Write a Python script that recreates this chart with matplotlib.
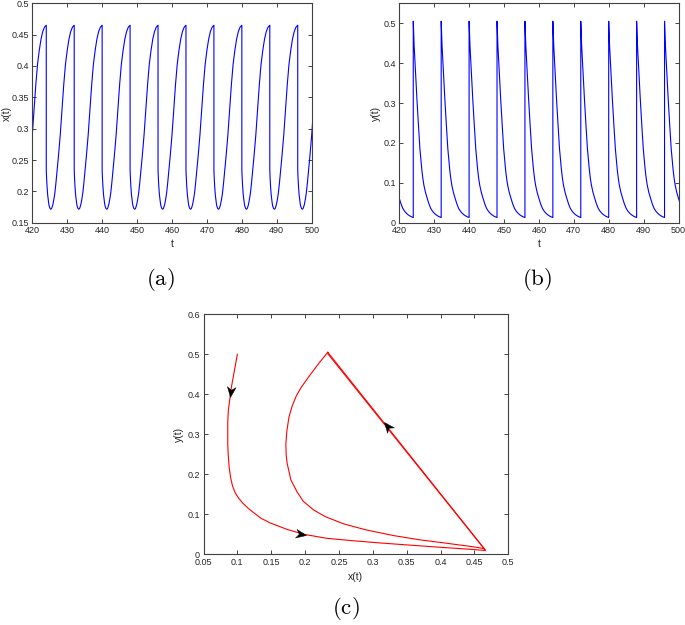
import numpy as np
import matplotlib
matplotlib.use('Agg')
import matplotlib.pyplot as plt
from matplotlib.path import Path
from matplotlib.markers import MarkerStyle
from matplotlib.transforms import Affine2D
from matplotlib.ticker import FormatStrFormatter

plt.rcParams['font.family'] = ['Liberation Sans', 'DejaVu Sans']
plt.rcParams['mathtext.fontset'] = 'cm'

# one period of the periodic solution (tau = time since pulse)
cycle_tau = [0, 0.1, 0.25, 0.4, 0.55, 0.7, 0.85, 1.05, 1.25, 1.45, 1.6, 1.9, 2.2,
             2.45, 2.75, 3.05, 3.5, 4.0, 4.5, 5.0, 5.5, 6.0, 6.5, 7.0, 7.5, 8.0]
cycle_x = [0.2335, 0.2205, 0.2055, 0.1945, 0.187, 0.1808, 0.1763, 0.1732, 0.1716, 0.172, 0.1735, 0.179, 0.188,
           0.197, 0.2125, 0.230, 0.257, 0.290, 0.330, 0.370, 0.403, 0.425, 0.443, 0.455, 0.462, 0.465]
cycle_y = [0.505, 0.478, 0.444, 0.418, 0.396, 0.370, 0.344, 0.310, 0.2775, 0.250, 0.2275, 0.186, 0.1565,
           0.133, 0.111, 0.094, 0.076, 0.061, 0.047, 0.036, 0.029, 0.024, 0.020, 0.017, 0.0148, 0.013]

# impulse times
pulse_t = [416, 424, 432, 440, 448, 456, 464, 472, 480, 488, 496]

# transient orbit in the phase plane, starting from (0.1, 0.5), ending with the first pulse
trans_x = [0.100, 0.097, 0.094, 0.091, 0.089, 0.0867, 0.0858, 0.0858, 0.0858, 0.0867, 0.088, 0.0902,
           0.093, 0.097, 0.102, 0.108, 0.116, 0.1237, 0.135, 0.1484, 0.173, 0.198, 0.232, 0.270,
           0.306, 0.350, 0.400, 0.440, 0.4665, 0.2335]
trans_y = [0.500, 0.472, 0.444, 0.416, 0.390, 0.360, 0.330, 0.3025, 0.2735, 0.244, 0.215, 0.190,
           0.170, 0.153, 0.140, 0.128, 0.115, 0.1045, 0.090, 0.0785, 0.0625, 0.050, 0.040, 0.034,
           0.029, 0.0235, 0.0175, 0.0130, 0.0095, 0.5015]

# direction arrows in panel (c): position and heading
arrow_x = [0.089, 0.201, 0.316]
arrow_y = [0.393, 0.0495, 0.331]
arrow_dx = [-0.002, 0.034, -0.232]
arrow_dy = [-0.028, -0.010, 0.492]

# build the time series from the period and the pulse times
t_all, x_all, y_all = [], [], []
for tk in pulse_t:
    for tau, xv, yv in zip(cycle_tau, cycle_x, cycle_y):
        t_all.append(tk + tau)
        x_all.append(xv)
        y_all.append(yv)

W, H = 685, 625
fig = plt.figure(figsize=(W / 100, H / 100), dpi=100)


def add_axes_px(left, top, right, bottom):
    return fig.add_axes([left / W, 1 - bottom / H, (right - left) / W, (bottom - top) / H])


def style(ax, xlab, ylab, xl_y, yl_x):
    for s in ax.spines.values():
        s.set_color('#404040')
        s.set_linewidth(0.8)
    ax.tick_params(direction='in', top=True, right=True, length=3, width=0.6,
                   labelsize=6.5, pad=2.5, colors='#262626')
    ax.set_xlabel(xlab, fontsize=7.5, va='center', color='#262626')
    ax.set_ylabel(ylab, fontsize=7.5, va='center', color='#262626')
    ax.xaxis.set_label_coords(0.5, xl_y)
    ax.yaxis.set_label_coords(yl_x, 0.5)


# (a) x(t)
ax1 = add_axes_px(32.3, 3.3, 311.7, 222.7)
ax1.plot(t_all, x_all, color='blue', lw=0.8)
ax1.set_xlim(420, 500)
ax1.set_ylim(0.15, 0.5)
ax1.set_xticks(np.arange(420, 501, 10))
ax1.set_yticks(np.arange(0.15, 0.501, 0.05))
ax1.yaxis.set_major_formatter(FormatStrFormatter('%g'))
style(ax1, 't', 'x(t)', -0.097, -0.092)

# (b) y(t)
ax2 = add_axes_px(399.3, 3.3, 678.5, 222.7)
ax2.plot(t_all, y_all, color='blue', lw=0.8)
ax2.set_xlim(420, 500)
ax2.set_ylim(0, 0.55)
ax2.set_xticks(np.arange(420, 501, 10))
ax2.set_yticks(np.arange(0, 0.51, 0.1))
ax2.yaxis.set_major_formatter(FormatStrFormatter('%g'))
style(ax2, 't', 'y(t)', -0.097, -0.083)

# (c) phase portrait
ax3 = add_axes_px(203.5, 314.3, 508.3, 554.3)
ax3.plot(trans_x, trans_y, color='red', lw=0.8)
ax3.plot(cycle_x + cycle_x[:1], cycle_y + cycle_y[:1], color='red', lw=0.8)
ax3.set_xlim(0.05, 0.5)
ax3.set_ylim(0, 0.6)
ax3.set_xticks(np.arange(0.05, 0.501, 0.05))
ax3.set_yticks(np.arange(0, 0.61, 0.1))
ax3.xaxis.set_major_formatter(FormatStrFormatter('%g'))
ax3.yaxis.set_major_formatter(FormatStrFormatter('%g'))
style(ax3, 'x(t)', 'y(t)', -0.095, -0.080)

# notched arrowheads, rotated to the heading in screen space
head = Path([(0, 0), (-1, 0.42), (-0.7, 0), (-1, -0.42), (0, 0)],
            [Path.MOVETO, Path.LINETO, Path.LINETO, Path.LINETO, Path.CLOSEPOLY])
fig.canvas.draw()
for xa, ya, dx, dy in zip(arrow_x, arrow_y, arrow_dx, arrow_dy):
    p0 = ax3.transData.transform((xa, ya))
    p1 = ax3.transData.transform((xa + dx, ya + dy))
    ang = np.degrees(np.arctan2(p1[1] - p0[1], p1[0] - p0[0]))
    m = MarkerStyle(head, transform=Affine2D().rotate_deg(ang))
    ax3.plot([xa], [ya], marker=m, markersize=15, color='black', mec='black', mew=0.3, ls='none')

# panel letters
fig.text(160 / W, 1 - 280 / H, r'$\mathrm{(a)}$', fontsize=16.5, ha='center', va='center')
fig.text(537 / W, 1 - 280 / H, r'$\mathrm{(b)}$', fontsize=16.5, ha='center', va='center')
fig.text(346 / W, 1 - 609 / H, r'$\mathrm{(c)}$', fontsize=16.5, ha='center', va='center')

plt.savefig('out.png', dpi=100)
